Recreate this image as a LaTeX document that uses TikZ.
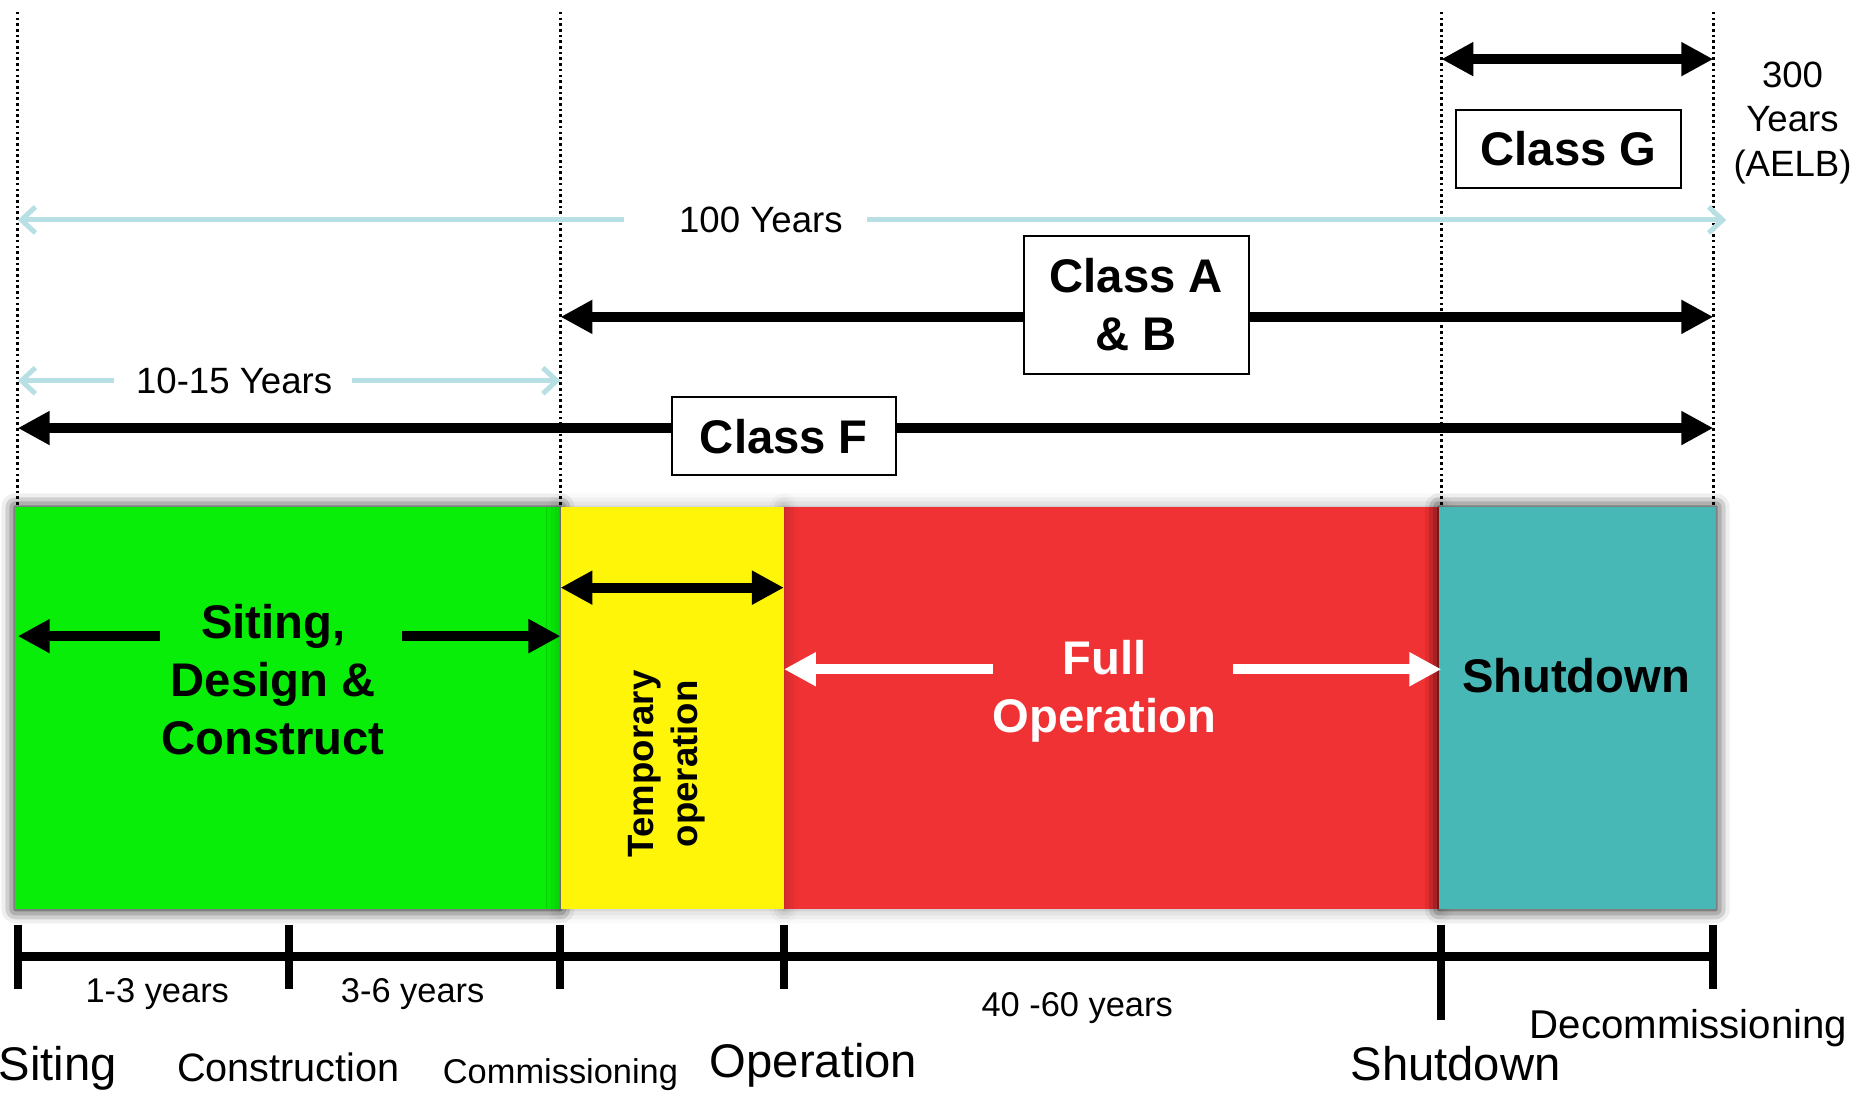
\documentclass[tikz,border=0pt]{standalone}
\usepackage{fontspec}
\setmainfont{Liberation Sans}
\usetikzlibrary{arrows.meta,shadows.blur}
\definecolor{cgreen}{RGB}{8,238,8}
\definecolor{cyellow}{RGB}{255,245,8}
\definecolor{cred}{RGB}{240,50,52}
\definecolor{cteal}{RGB}{71,184,182}
\definecolor{clblue}{RGB}{184,224,228}
\tikzset{
  vline/.style={line width=1.6pt, dash pattern=on 1.3pt off 1.55pt},
  bigarr/.style={line width=5pt, -{Triangle[length=16pt,width=16pt]}},
  dblarr/.style={line width=5pt, {Triangle[length=16pt,width=16pt]}-{Triangle[length=16pt,width=16pt]}},
  bluearr/.style={draw=clblue, line width=2.5pt, -{Straight Barb[length=7pt,width=13pt,line width=2.5pt]}},
  classbox/.style={draw=black, line width=1pt, fill=white, align=center, inner sep=0pt,
    minimum width=112.3pt, minimum height=39pt, font=\fontsize{23.6}{29}\selectfont\bfseries},
  bar/.style={inner sep=0pt, minimum height=201pt},
  boldtxt/.style={align=center, inner sep=0pt, font=\fontsize{23.6}{29}\selectfont\bfseries},
  smalltxt/.style={inner sep=0pt, anchor=base, font=\fontsize{17.2}{21}\selectfont},
  midtxt/.style={inner sep=0pt, font=\fontsize{18.3}{22}\selectfont},
  tick/.style={line width=4pt},
}
\begin{document}
\begin{tikzpicture}[x=0.5912pt,y=-0.5912pt]
\useasboundingbox (0,0) rectangle (1568,926);
% dotted guide lines
\foreach \n/\xx in {d1/15,d2/474,d3/1219,d4/1449}{
  \coordinate (\n t) at (\xx,10);
  \coordinate (\n b) at (\xx,428);
  \draw[vline] (\n t) -- (\n b);
}
% Class G
\coordinate (gL) at (1219,50); \coordinate (gR) at (1449,50);
\draw[dblarr] (gL) -- (gR);
\node[classbox] (boxG) at (1326.5,126) {Class G};
\node[midtxt, align=center, font=\fontsize{18.3}{22.2}\selectfont] (aelb) at (1516,104) {300\\Years\\(AELB)};
% 100 years
\coordinate (hL) at (15,186); \coordinate (hR) at (1460,186);
\coordinate (hg1) at (528,186); \coordinate (hg2) at (733,186);
\draw[bluearr] (hg1) -- (hL);
\draw[bluearr] (hg2) -- (hR);
\node[midtxt, anchor=base] (t100) at (643.5,197) {100 Years};
% Class A & B
\coordinate (abL) at (474,268); \coordinate (abR) at (1449,268);
\draw[dblarr] (abL) -- (abR);
\node[classbox, minimum height=68.6pt] (boxAB) at (961,258) {Class A\\\& B};
% 10-15 years
\coordinate (tL) at (15,322); \coordinate (tR) at (474,322);
\coordinate (tg1) at (96,322); \coordinate (tg2) at (298,322);
\draw[bluearr] (tg1) -- (tL);
\draw[bluearr] (tg2) -- (tR);
\node[midtxt, anchor=base] (t1015) at (198,333) {10-15 Years};
% Class F
\coordinate (fL) at (15,362); \coordinate (fR) at (1449,362);
\draw[dblarr] (fL) -- (fR);
\node[classbox] (boxF) at (663,369) {Class F};
% bars
\node[bar, fill=cgreen, minimum width=272.5pt,
  blur shadow={shadow xshift=0pt, shadow yshift=0pt, shadow blur radius=7pt, shadow opacity=100}] (green) at (243.5,599) {};
\node[bar, fill=cred, minimum width=327.5pt,
  blur shadow={shadow xshift=0pt, shadow yshift=0pt, shadow blur radius=7pt, shadow opacity=35}] (red) at (940,599) {};
\node[bar, fill=cyellow, minimum width=111.7pt,
  blur shadow={shadow xshift=0pt, shadow yshift=0pt, shadow blur radius=7pt, shadow opacity=30}] (yellow) at (568.5,599) {};
\node[bar, fill=cteal, minimum width=138.3pt,
  blur shadow={shadow xshift=0pt, shadow yshift=0pt, shadow blur radius=7pt, shadow opacity=100}] (teal) at (1334,599) {};
% green contents
\node[boldtxt] (sdc) at (231,575) {Siting,\\Design \&\\Construct};
\coordinate (ga1) at (135,538); \coordinate (ga2) at (15,538);
\coordinate (ga3) at (340,538); \coordinate (ga4) at (474,538);
\draw[bigarr] (ga1) -- (ga2);
\draw[bigarr] (ga3) -- (ga4);
% yellow contents
\coordinate (ya1) at (474,497); \coordinate (ya2) at (663,497);
\draw[dblarr] (ya1) -- (ya2);
\node[align=center, inner sep=0pt, rotate=90, font=\fontsize{18.3}{21.9}\selectfont\bfseries] (temp) at (564,646) {Temporary\\operation};
% red contents
\node[boldtxt, text=white] (fullop) at (934,585) {Full\\Operation};
\coordinate (ra1) at (840,566); \coordinate (ra2) at (663,566);
\coordinate (ra3) at (1043,566); \coordinate (ra4) at (1219,566);
\draw[bigarr, white] (ra1) -- (ra2);
\draw[bigarr, white] (ra3) -- (ra4);
% teal contents
\node[boldtxt, anchor=base] (shut) at (1333,586) {Shutdown};
% timeline
\coordinate (tl0) at (15,809); \coordinate (tl5) at (1449,809);
\draw[line width=4.5pt] (tl0) -- (tl5);
\foreach \n/\xx/\yb in {k0/15/836,k1/244/836,k2/474/836,k3/663/836,k4/1219/863,k5/1449/836}{
  \coordinate (\n t) at (\xx,782);
  \coordinate (\n b) at (\xx,\yb);
  \draw[tick] (\n t) -- (\n b);
}
\node[smalltxt] (y13) at (133,848) {1-3 years};
\node[smalltxt] (y36) at (349,848) {3-6 years};
\node[smalltxt] (y4060) at (911,860) {40 -60 years};
\node[inner sep=0pt, anchor=base, font=\fontsize{23.6}{28}\selectfont] (lsit) at (49,914) {Siting};
\node[inner sep=0pt, anchor=base, font=\fontsize{19.8}{24}\selectfont] (lcon) at (244,915) {Construction};
\node[inner sep=0pt, anchor=base, font=\fontsize{17.2}{21}\selectfont] (lcom) at (474,916) {Commissioning};
\node[inner sep=0pt, anchor=base, font=\fontsize{23.6}{28}\selectfont] (lop) at (688,911) {Operation};
\node[inner sep=0pt, anchor=base, font=\fontsize{23.6}{28}\selectfont] (lshut) at (1231,914) {Shutdown};
\node[inner sep=0pt, anchor=base, font=\fontsize{20.1}{24}\selectfont] (ldec) at (1428,878) {Decommissioning};
\end{tikzpicture}
\end{document}
